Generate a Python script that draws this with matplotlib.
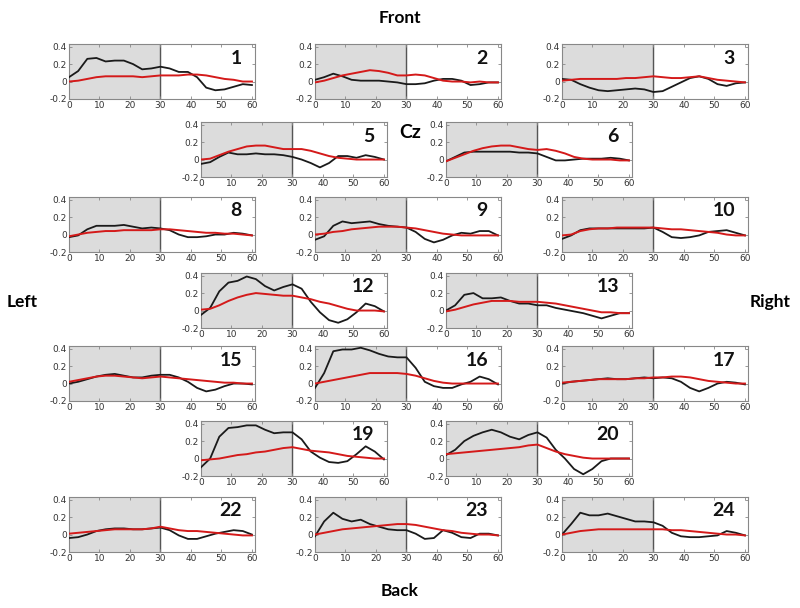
import numpy as np
import matplotlib
matplotlib.use("Agg")
from matplotlib import pyplot as plt

# time axis, samples every 3 units
t = np.arange(0, 61, 3)

# panel numbers
panels = [1, 2, 3, 5, 6, 8, 9, 10, 12, 13, 15, 16, 17, 19, 20, 22, 23, 24]

# black curves
black_1 = [0.05, 0.12, 0.26, 0.27, 0.23, 0.24, 0.24, 0.20, 0.14, 0.15, 0.17, 0.15, 0.11, 0.11, 0.05, -0.07, -0.10, -0.09, -0.06, -0.03, -0.04]
black_2 = [0.02, 0.05, 0.09, 0.06, 0.02, 0.01, 0.01, 0.01, 0.00, -0.01, -0.03, -0.03, -0.02, 0.01, 0.03, 0.03, 0.01, -0.04, -0.03, -0.01, -0.01]
black_3 = [0.03, 0.02, -0.03, -0.07, -0.10, -0.11, -0.10, -0.09, -0.08, -0.09, -0.12, -0.11, -0.06, -0.01, 0.04, 0.06, 0.03, -0.03, -0.05, -0.02, -0.01]
black_5 = [-0.05, -0.03, 0.03, 0.08, 0.06, 0.06, 0.07, 0.06, 0.06, 0.05, 0.03, 0.00, -0.04, -0.09, -0.04, 0.04, 0.04, 0.02, 0.05, 0.03, 0.00]
black_6 = [-0.02, 0.03, 0.08, 0.09, 0.09, 0.09, 0.09, 0.09, 0.08, 0.08, 0.07, 0.03, -0.01, -0.01, 0.00, 0.01, 0.01, 0.01, 0.02, 0.01, -0.01]
black_8 = [-0.03, -0.01, 0.06, 0.10, 0.10, 0.10, 0.11, 0.09, 0.07, 0.08, 0.07, 0.05, 0.00, -0.03, -0.03, -0.02, 0.00, 0.00, 0.02, 0.01, -0.01]
black_9 = [-0.06, -0.02, 0.10, 0.15, 0.13, 0.14, 0.15, 0.12, 0.10, 0.09, 0.08, 0.03, -0.05, -0.09, -0.06, -0.01, 0.02, 0.01, 0.04, 0.04, -0.01]
black_10 = [-0.05, -0.01, 0.05, 0.07, 0.07, 0.07, 0.07, 0.07, 0.07, 0.07, 0.08, 0.03, -0.03, -0.04, -0.03, -0.01, 0.03, 0.04, 0.05, 0.02, -0.01]
black_12 = [-0.05, 0.03, 0.22, 0.32, 0.34, 0.39, 0.36, 0.28, 0.23, 0.27, 0.30, 0.25, 0.10, -0.02, -0.11, -0.14, -0.10, -0.02, 0.08, 0.05, -0.01]
black_13 = [0.00, 0.06, 0.18, 0.20, 0.14, 0.14, 0.15, 0.11, 0.08, 0.08, 0.06, 0.06, 0.03, 0.01, -0.01, -0.03, -0.06, -0.09, -0.06, -0.03, -0.03]
black_15 = [0.00, 0.02, 0.05, 0.08, 0.10, 0.11, 0.09, 0.07, 0.07, 0.09, 0.10, 0.10, 0.07, 0.02, -0.05, -0.09, -0.07, -0.03, 0.00, 0.00, -0.01]
black_16 = [-0.05, 0.12, 0.37, 0.39, 0.39, 0.41, 0.38, 0.34, 0.31, 0.30, 0.30, 0.18, 0.02, -0.03, -0.05, -0.05, -0.01, 0.02, 0.08, 0.05, -0.01]
black_17 = [0.00, 0.02, 0.03, 0.04, 0.05, 0.06, 0.05, 0.05, 0.06, 0.07, 0.06, 0.07, 0.06, 0.02, -0.05, -0.09, -0.05, 0.00, 0.02, 0.01, -0.01]
black_19 = [-0.10, 0.00, 0.25, 0.35, 0.36, 0.38, 0.38, 0.33, 0.29, 0.30, 0.30, 0.22, 0.08, 0.01, -0.04, -0.05, -0.03, 0.05, 0.14, 0.08, -0.01]
black_20 = [0.04, 0.10, 0.20, 0.26, 0.30, 0.33, 0.30, 0.25, 0.22, 0.27, 0.30, 0.24, 0.10, 0.00, -0.12, -0.18, -0.12, -0.03, 0.00, 0.00, 0.00]
black_22 = [-0.04, -0.03, 0.00, 0.04, 0.06, 0.07, 0.07, 0.06, 0.06, 0.07, 0.08, 0.05, -0.01, -0.05, -0.05, -0.02, 0.01, 0.03, 0.05, 0.04, 0.00]
black_23 = [-0.02, 0.15, 0.25, 0.18, 0.15, 0.17, 0.12, 0.09, 0.06, 0.05, 0.05, 0.01, -0.05, -0.04, 0.05, 0.02, -0.03, -0.04, 0.01, 0.01, -0.01]
black_24 = [0.00, 0.12, 0.25, 0.22, 0.22, 0.24, 0.21, 0.18, 0.15, 0.15, 0.14, 0.10, 0.02, -0.02, -0.03, -0.03, -0.02, -0.01, 0.04, 0.02, -0.01]

# red curves
red_1 = [0.00, 0.01, 0.03, 0.05, 0.06, 0.06, 0.06, 0.06, 0.05, 0.06, 0.07, 0.07, 0.07, 0.08, 0.08, 0.07, 0.05, 0.03, 0.02, 0.00, 0.00]
red_2 = [-0.01, 0.01, 0.04, 0.07, 0.09, 0.11, 0.13, 0.12, 0.10, 0.07, 0.07, 0.08, 0.07, 0.04, 0.01, 0.00, 0.00, -0.01, 0.00, -0.01, -0.01]
red_3 = [0.01, 0.02, 0.03, 0.03, 0.03, 0.03, 0.03, 0.04, 0.04, 0.05, 0.06, 0.05, 0.04, 0.04, 0.05, 0.06, 0.04, 0.02, 0.01, 0.00, -0.01]
red_5 = [0.00, 0.01, 0.05, 0.09, 0.12, 0.15, 0.16, 0.16, 0.14, 0.12, 0.12, 0.12, 0.10, 0.07, 0.04, 0.02, 0.01, 0.00, 0.00, 0.00, 0.00]
red_6 = [-0.02, 0.02, 0.06, 0.10, 0.13, 0.15, 0.16, 0.16, 0.14, 0.12, 0.11, 0.12, 0.10, 0.07, 0.03, 0.01, 0.00, 0.00, 0.00, -0.01, -0.01]
red_8 = [-0.02, 0.00, 0.02, 0.03, 0.04, 0.04, 0.05, 0.05, 0.05, 0.05, 0.06, 0.06, 0.05, 0.04, 0.03, 0.02, 0.02, 0.01, 0.01, 0.00, -0.01]
red_9 = [0.00, 0.01, 0.03, 0.04, 0.06, 0.07, 0.08, 0.09, 0.09, 0.09, 0.08, 0.07, 0.05, 0.03, 0.01, 0.00, -0.01, -0.01, -0.01, -0.01, -0.01]
red_10 = [-0.01, 0.00, 0.04, 0.06, 0.07, 0.07, 0.08, 0.08, 0.08, 0.08, 0.08, 0.07, 0.06, 0.06, 0.05, 0.04, 0.03, 0.02, 0.00, -0.01, -0.01]
red_12 = [0.01, 0.02, 0.06, 0.11, 0.15, 0.18, 0.20, 0.19, 0.18, 0.17, 0.17, 0.15, 0.13, 0.10, 0.08, 0.05, 0.02, 0.00, 0.00, 0.00, -0.01]
red_13 = [-0.01, 0.01, 0.04, 0.07, 0.09, 0.11, 0.11, 0.11, 0.10, 0.10, 0.10, 0.09, 0.08, 0.06, 0.04, 0.02, 0.00, -0.02, -0.02, -0.03, -0.03]
red_15 = [0.02, 0.04, 0.06, 0.08, 0.09, 0.09, 0.08, 0.07, 0.06, 0.07, 0.08, 0.07, 0.06, 0.05, 0.04, 0.03, 0.02, 0.01, 0.01, 0.00, 0.00]
red_16 = [0.00, 0.02, 0.04, 0.06, 0.08, 0.10, 0.12, 0.12, 0.12, 0.12, 0.11, 0.09, 0.06, 0.03, 0.01, 0.00, 0.00, 0.00, 0.00, 0.00, 0.00]
red_17 = [0.01, 0.02, 0.03, 0.04, 0.05, 0.05, 0.05, 0.05, 0.06, 0.06, 0.07, 0.07, 0.08, 0.08, 0.07, 0.05, 0.03, 0.02, 0.01, 0.00, 0.00]
red_19 = [-0.02, -0.01, 0.00, 0.02, 0.04, 0.05, 0.07, 0.08, 0.10, 0.12, 0.13, 0.11, 0.09, 0.08, 0.07, 0.05, 0.03, 0.02, 0.01, 0.00, 0.00]
red_20 = [0.05, 0.06, 0.07, 0.08, 0.09, 0.10, 0.11, 0.12, 0.13, 0.15, 0.16, 0.12, 0.08, 0.05, 0.03, 0.01, 0.00, 0.00, 0.00, 0.00, 0.00]
red_22 = [0.01, 0.02, 0.03, 0.04, 0.05, 0.06, 0.06, 0.06, 0.06, 0.07, 0.09, 0.07, 0.05, 0.04, 0.04, 0.03, 0.02, 0.01, 0.00, -0.01, -0.01]
red_23 = [0.00, 0.02, 0.04, 0.06, 0.07, 0.08, 0.09, 0.10, 0.11, 0.12, 0.12, 0.11, 0.09, 0.07, 0.05, 0.04, 0.02, 0.01, 0.00, 0.00, -0.01]
red_24 = [0.00, 0.02, 0.04, 0.05, 0.06, 0.06, 0.06, 0.06, 0.06, 0.06, 0.06, 0.06, 0.05, 0.05, 0.04, 0.03, 0.02, 0.01, 0.00, 0.00, -0.01]

black = [black_1, black_2, black_3, black_5, black_6, black_8, black_9, black_10, black_12,
         black_13, black_15, black_16, black_17, black_19, black_20, black_22, black_23, black_24]
red = [red_1, red_2, red_3, red_5, red_6, red_8, red_9, red_10, red_12,
       red_13, red_15, red_16, red_17, red_19, red_20, red_22, red_23, red_24]

# --- LAYOUT (pixels) ---
W, H = 800, 608
row_tops = [44, 122, 197, 273, 346, 421, 497]
ax_w, ax_h = 186, 55
wide_cols = [69, 315, 562]
narrow_cols = [201, 446]
slots = []
for r, top in enumerate(row_tops):
    cols = wide_cols if r % 2 == 0 else narrow_cols
    for c in cols:
        slots.append((c, top))

fig = plt.figure(figsize=(8, 6.08), dpi=100)
fig.patch.set_facecolor('w')

for k in range(len(panels)):
    left, top = slots[k]
    ax = fig.add_axes([left / W, 1 - (top + ax_h) / H, ax_w / W, ax_h / H])
    ax.axvspan(0, 30, color='#dcdcdc', zorder=0)
    ax.axvline(30, color='#555555', lw=1.0, zorder=1)
    ax.plot(t, black[k], color='#1a1a1a', lw=1.3, zorder=3)
    ax.plot(t, red[k], color='#d41a1a', lw=1.4, zorder=4)
    ax.set_xlim(0, 61)
    ax.set_ylim(-0.2, 0.43)
    ax.set_xticks([0, 10, 20, 30, 40, 50, 60])
    ax.set_yticks([-0.2, 0, 0.2, 0.4])
    ax.set_yticklabels(['-0.2', '0', '0.2', '0.4'])
    ax.tick_params(direction='in', length=2, width=0.6, labelsize=6.5,
                   labelcolor='#333333', color='#888888', pad=1.5,
                   top=True, right=True)
    for s in ax.spines.values():
        s.set_color('#888888')
        s.set_linewidth(0.8)
    ax.text(0.93, 0.9, str(panels[k]), transform=ax.transAxes, ha='right', va='top',
            fontsize=14, fontweight='bold', family='Lato', color='#111111')

fig.text(400 / W, 1 - 18 / H, 'Front', ha='center', va='center', fontsize=12.5, fontweight='bold', family='Lato')
fig.text(400 / W, 1 - 591 / H, 'Back', ha='center', va='center', fontsize=12.5, fontweight='bold', family='Lato')
fig.text(22 / W, 1 - 302 / H, 'Left', ha='center', va='center', fontsize=12.5, fontweight='bold', family='Lato')
fig.text(770 / W, 1 - 302 / H, 'Right', ha='center', va='center', fontsize=12.5, fontweight='bold', family='Lato')
fig.text(410 / W, 1 - 133 / H, 'Cz', ha='center', va='center', fontsize=14, fontweight='bold', family='Lato')

fig.savefig('out.png', dpi=100)
